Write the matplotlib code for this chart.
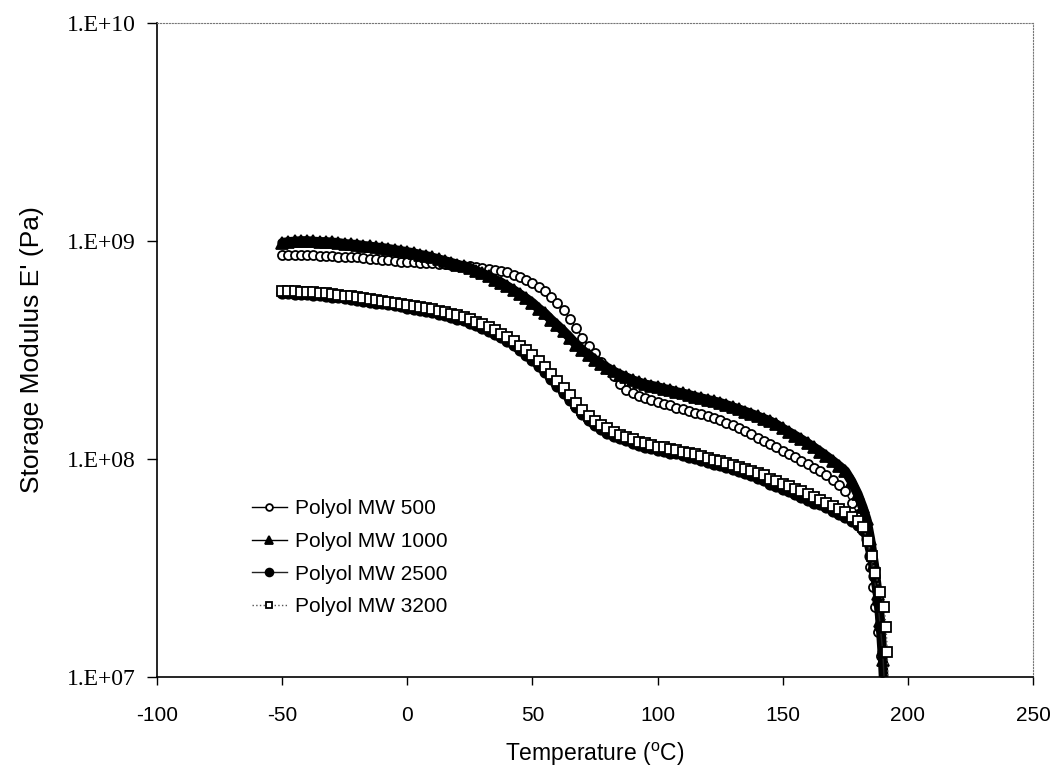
import numpy as np
import matplotlib
matplotlib.use('Agg')
import matplotlib.pyplot as plt
from matplotlib.ticker import FuncFormatter, FixedLocator, NullLocator

plt.rcParams['font.family'] = ['Liberation Sans', 'DejaVu Sans']
plt.rcParams['mathtext.fontset'] = 'custom'
plt.rcParams['mathtext.rm'] = 'Liberation Sans'
plt.rcParams['axes.unicode_minus'] = False

# temperature grid (deg C), shared by all series up to 180 C
temps = [-50, -47.5, -45, -42.5, -40, -37.5, -35, -32.5, -30, -27.5, -25, -22.5, -20, -17.5,
         -15, -12.5, -10, -7.5, -5, -2.5, 0, 2.5, 5, 7.5, 10, 12.5, 15, 17.5, 20, 22.5, 25,
         27.5, 30, 32.5, 35, 37.5, 40, 42.5, 45, 47.5, 50, 52.5, 55, 57.5, 60, 62.5, 65,
         67.5, 70, 72.5, 75, 77.5, 80, 82.5, 85, 87.5, 90, 92.5, 95, 97.5, 100, 102.5, 105,
         107.5, 110, 112.5, 115, 117.5, 120, 122.5, 125, 127.5, 130, 132.5, 135, 137.5, 140,
         142.5, 145, 147.5, 150, 152.5, 155, 157.5, 160, 162.5, 165, 167.5, 170, 172.5, 175,
         177.5, 180]

# storage modulus, units of 1e8 Pa
e_500 = [8.6, 8.6, 8.6, 8.6, 8.6, 8.58, 8.55, 8.52, 8.5, 8.47, 8.45, 8.42, 8.4, 8.35,
         8.3, 8.25, 8.2, 8.15, 8.1, 8.05, 8.0, 7.98, 7.95, 7.92, 7.9, 7.86, 7.82, 7.78, 7.75, 7.7, 7.65,
         7.58, 7.5, 7.43, 7.36, 7.28, 7.2, 7.0, 6.85, 6.65, 6.4, 6.15, 5.9, 5.55, 5.2, 4.8, 4.4,
         4.0, 3.6, 3.3, 3.05, 2.8, 2.6, 2.4, 2.2, 2.08, 2.0, 1.94, 1.9, 1.86, 1.82, 1.79, 1.76,
         1.72, 1.69, 1.66, 1.63, 1.6, 1.57, 1.54, 1.51, 1.47, 1.43, 1.39, 1.34, 1.30, 1.25,
         1.21, 1.17, 1.13, 1.09, 1.05, 1.02, 0.98, 0.95, 0.91, 0.88, 0.84, 0.80, 0.76, 0.71,
         0.63, 0.56]
e_1000 = [9.8, 9.9, 9.95, 10.0, 10.0, 9.95, 9.9, 9.9, 9.85, 9.8, 9.7, 9.65, 9.6, 9.5,
          9.45, 9.35, 9.3, 9.2, 9.1, 9.0, 8.9, 8.8, 8.65, 8.55, 8.4, 8.25, 8.1, 7.95, 7.8, 7.65, 7.5,
          7.3, 7.1, 6.9, 6.65, 6.45, 6.2, 5.95, 5.7, 5.45, 5.2, 4.9, 4.65, 4.35, 4.1, 3.85, 3.6,
          3.35, 3.15, 3.0, 2.85, 2.72, 2.62, 2.52, 2.44, 2.37, 2.3, 2.25, 2.2, 2.17, 2.14, 2.1, 2.07,
          2.03, 2.0, 1.97, 1.93, 1.9, 1.87, 1.84, 1.81, 1.77, 1.73, 1.69, 1.65, 1.61, 1.57,
          1.53, 1.49, 1.44, 1.38, 1.33, 1.28, 1.23, 1.18, 1.13, 1.08, 1.03, 0.98, 0.93, 0.88,
          0.79, 0.69]
e_2500 = [5.75, 5.75, 5.73, 5.71, 5.69, 5.67, 5.63, 5.6, 5.55, 5.51, 5.47, 5.42, 5.37, 5.32,
          5.27, 5.22, 5.17, 5.12, 5.07, 5.02, 4.95, 4.89, 4.83, 4.77, 4.71, 4.64, 4.57, 4.49, 4.41, 4.32, 4.22,
          4.11, 4.0, 3.87, 3.75, 3.61, 3.47, 3.32, 3.15, 3.0, 2.85, 2.67, 2.5, 2.33, 2.17, 2.0, 1.86,
          1.73, 1.61, 1.51, 1.43, 1.37, 1.32, 1.28, 1.25, 1.22, 1.19, 1.16, 1.14, 1.12, 1.10, 1.09, 1.07,
          1.06, 1.04, 1.02, 1.01, 0.99, 0.97, 0.95, 0.94, 0.92, 0.9, 0.88, 0.86, 0.84, 0.82,
          0.8, 0.77, 0.75, 0.73, 0.71, 0.69, 0.67, 0.65, 0.63, 0.62, 0.6, 0.58, 0.56, 0.54,
          0.52, 0.5]
e_3200 = [5.9, 5.9, 5.88, 5.86, 5.84, 5.82, 5.78, 5.75, 5.7, 5.66, 5.62, 5.57, 5.52, 5.47,
          5.42, 5.37, 5.32, 5.27, 5.22, 5.16, 5.1, 5.04, 4.98, 4.92, 4.86, 4.79, 4.72, 4.64, 4.56, 4.47, 4.37,
          4.26, 4.15, 4.02, 3.9, 3.76, 3.62, 3.47, 3.3, 3.15, 3.0, 2.82, 2.64, 2.46, 2.29, 2.12, 1.96,
          1.81, 1.68, 1.58, 1.49, 1.43, 1.38, 1.33, 1.29, 1.26, 1.23, 1.2, 1.18, 1.16, 1.14, 1.13, 1.11,
          1.1, 1.08, 1.06, 1.05, 1.03, 1.01, 0.99, 0.98, 0.96, 0.94, 0.92, 0.9, 0.88, 0.86,
          0.84, 0.81, 0.79, 0.77, 0.75, 0.73, 0.71, 0.69, 0.67, 0.65, 0.63, 0.61, 0.59, 0.57,
          0.54, 0.52]

# steep drop near 190 C
tail_t_500 = [182, 183.5, 185, 186, 187, 188.2, 189.2, 189.8, 190.2]
tail_e_500 = [0.48, 0.42, 0.32, 0.26, 0.21, 0.16, 0.125, 0.095, 0.07]
tail_t_1000 = [182, 183.5, 185, 186.5, 188, 189, 190, 190.5, 190.8]
tail_e_1000 = [0.60, 0.53, 0.43, 0.33, 0.24, 0.18, 0.12, 0.09, 0.07]
tail_t_2500 = [182, 183.5, 185, 186.5, 188, 189, 190, 190.7, 191.0]
tail_e_2500 = [0.47, 0.43, 0.36, 0.29, 0.22, 0.17, 0.13, 0.09, 0.07]
tail_t_3200 = [182, 184, 185.5, 187, 189, 190.5, 191.3, 191.8, 192.1, 192.3]
tail_e_3200 = [0.49, 0.42, 0.36, 0.30, 0.245, 0.21, 0.17, 0.13, 0.09, 0.07]

labels = ['Polyol MW 500', 'Polyol MW 1000', 'Polyol MW 2500', 'Polyol MW 3200']

fig = plt.figure(figsize=(10.55, 7.72), dpi=100)
ax = fig.add_axes([0.1488, 0.1231, 0.8303, 0.8471])

series = [
    (e_500, tail_t_500, tail_e_500, 0,
     dict(marker='o', mfc='white', mec='black', color='black', ls='-', ms=6.5)),
    (e_1000, tail_t_1000, tail_e_1000, 7,
     dict(marker='^', mfc='black', mec='black', color='black', ls='-', ms=8)),
    (e_2500, tail_t_2500, tail_e_2500, 5.5,
     dict(marker='o', mfc='black', mec='black', color='#222222', ls='-', ms=7.5)),
    (e_3200, tail_t_3200, tail_e_3200, 0,
     dict(marker='s', mfc='white', mec='black', color='#555555', ls=':', ms=6.5)),
]

for (vals, tt, te, band, style), lab in zip(series, labels):
    x = list(temps) + tt
    y = np.array(list(vals) + te) * 1e8
    if band:
        # filled markers in the original merge into a solid band
        ax.plot(x, y, color='black', lw=band, solid_capstyle='round')
    ax.plot(x, y, label=lab, lw=1, mew=1.3, **style)

ax.set_yscale('log')
ax.set_xlim(-100, 250)
ax.set_ylim(1e7, 1e10)
ax.xaxis.set_major_locator(FixedLocator(np.arange(-100, 251, 50)))
ax.yaxis.set_major_locator(FixedLocator([1e7, 1e8, 1e9, 1e10]))
ax.yaxis.set_minor_locator(NullLocator())
ax.yaxis.set_major_formatter(FuncFormatter(lambda v, _: f'1.E+{int(round(np.log10(v))):02d}'))

ax.tick_params(axis='x', direction='out', length=6, width=1, pad=15, labelsize=15)
ax.tick_params(axis='y', direction='out', length=7, width=1, pad=8.5, labelsize=17)
for t in ax.get_yticklabels():
    t.set_family(['Liberation Serif', 'DejaVu Serif'])

for s in ['top', 'right']:
    ax.spines[s].set_linestyle(':')
    ax.spines[s].set_color('#777777')
    ax.spines[s].set_linewidth(0.8)
for s in ['left', 'bottom']:
    ax.spines[s].set_linewidth(1.2)

ax.set_xlabel(r'Temperature ($^{\rm o}$C)', fontsize=16.5, labelpad=11)
ax.set_ylabel("Storage Modulus E' (Pa)", fontsize=19, labelpad=16)

ax.legend(loc='upper left', bbox_to_anchor=(0.108, 0.272), frameon=False, fontsize=15,
          handlelength=1.7, handletextpad=0.4, labelspacing=0.66, borderpad=0, borderaxespad=0,
          markerscale=0.75)

fig.savefig('out.png', dpi=100)
